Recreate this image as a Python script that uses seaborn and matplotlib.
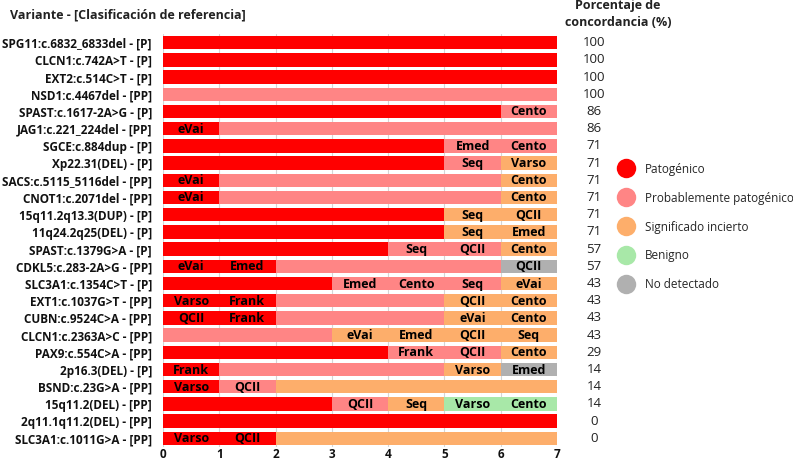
import matplotlib
matplotlib.use("Agg")
import matplotlib.pyplot as plt
from matplotlib.lines import Line2D
import pandas as pd
import seaborn as sns

# Variants (y categories), top to bottom
variants = [
    "SPG11:c.6832_6833del - [P]", "CLCN1:c.742A>T - [P]", "EXT2:c.514C>T - [P]",
    "NSD1:c.4467del - [PP]", "SPAST:c.1617-2A>G - [P]", "JAG1:c.221_224del - [PP]",
    "SGCE:c.884dup - [P]", "Xp22.31(DEL) - [P]", "SACS:c.5115_5116del - [PP]",
    "CNOT1:c.2071del - [PP]", "15q11.2q13.3(DUP) - [P]", "11q24.2q25(DEL) - [P]",
    "SPAST:c.1379G>A - [P]", "CDKL5:c.283-2A>G - [PP]", "SLC3A1:c.1354C>T - [P]",
    "EXT1:c.1037G>T - [PP]", "CUBN:c.9524C>A - [PP]", "CLCN1:c.2363A>C - [PP]",
    "PAX9:c.554C>A - [PP]", "2p16.3(DEL) - [P]", "BSND:c.23G>A - [PP]",
    "15q11.2(DEL) - [PP]", "2q11.1q11.2(DEL) - [PP]", "SLC3A1:c.1011G>A - [PP]",
]
concordance = [100, 100, 100, 100, 86, 86, 71, 71, 71, 71, 71, 71,
               57, 57, 43, 43, 43, 43, 29, 14, 14, 14, 0, 0]

# Classification given by each of the 7 labs (sorted), per variant
calls = [
    "P P P P P P P".split(),
    "P P P P P P P".split(),
    "P P P P P P P".split(),
    "PP PP PP PP PP PP PP".split(),
    "P P P P P P PP".split(),
    "P PP PP PP PP PP PP".split(),
    "P P P P P PP PP".split(),
    "P P P P P PP VUS".split(),
    "P PP PP PP PP PP VUS".split(),
    "P PP PP PP PP PP VUS".split(),
    "P P P P P VUS VUS".split(),
    "P P P P P VUS VUS".split(),
    "P P P P PP PP VUS".split(),
    "P P PP PP PP PP ND".split(),
    "P P P PP PP PP VUS".split(),
    "P P PP PP PP VUS VUS".split(),
    "P P PP PP PP VUS VUS".split(),
    "PP PP PP VUS VUS VUS VUS".split(),
    "P P P P PP PP VUS".split(),
    "P PP PP PP PP VUS ND".split(),
    "P PP VUS VUS VUS VUS VUS".split(),
    "P P P PP VUS B B".split(),
    "P P P P P P P".split(),
    "P P VUS VUS VUS VUS VUS".split(),
]

# Lab names written on discordant cells
lab_notes = [
    ["", "", "", "", "", "", ""],
    ["", "", "", "", "", "", ""],
    ["", "", "", "", "", "", ""],
    ["", "", "", "", "", "", ""],
    ["", "", "", "", "", "", "Cento"],
    ["eVai", "", "", "", "", "", ""],
    ["", "", "", "", "", "Emed", "Cento"],
    ["", "", "", "", "", "Seq", "Varso"],
    ["eVai", "", "", "", "", "", "Cento"],
    ["eVai", "", "", "", "", "", "Cento"],
    ["", "", "", "", "", "Seq", "QCII"],
    ["", "", "", "", "", "Seq", "Emed"],
    ["", "", "", "", "Seq", "QCII", "Cento"],
    ["eVai", "Emed", "", "", "", "", "QCII"],
    ["", "", "", "Emed", "Cento", "Seq", "eVai"],
    ["Varso", "Frank", "", "", "", "QCII", "Cento"],
    ["QCII", "Frank", "", "", "", "eVai", "Cento"],
    ["", "", "", "eVai", "Emed", "QCII", "Seq"],
    ["", "", "", "", "Frank", "QCII", "Cento"],
    ["Frank", "", "", "", "", "Varso", "Emed"],
    ["Varso", "QCII", "", "", "", "", ""],
    ["", "", "", "QCII", "Seq", "Varso", "Cento"],
    ["", "", "", "", "", "", ""],
    ["Varso", "QCII", "", "", "", "", ""],
]

class_names = ["Patogénico", "Probablemente patogénico", "Significado incierto",
               "Benigno", "No detectado"]
class_codes = ["P", "PP", "VUS", "B", "ND"]
class_colors = {"P": "#ff0000", "PP": "#ff8585", "VUS": "#fdae6b",
                "B": "#a8e8a8", "ND": "#b0b0b0"}

sns.set_theme(style="white")
plt.rcParams["font.family"] = ["Open Sans", "DejaVu Sans"]

n = len(variants)
n_labs = len(calls[0])

fig = plt.figure(figsize=(7.93, 4.63), dpi=100)
ax = fig.add_axes([163 / 793, 1 - 447 / 463, (557 - 163) / 793, (447 - 34) / 463])

# stacked bars: draw cumulative widths from the longest to the shortest
for k in range(n_labs, 0, -1):
    df = pd.DataFrame({"variant": variants, "width": [k] * n,
                       "cls": [row[k - 1] for row in calls]})
    pal = {v: class_colors[c] for v, c in zip(df["variant"], df["cls"])}
    sns.barplot(data=df, x="width", y="variant", hue="variant", palette=pal,
                legend=False, orient="h", width=0.78, saturation=1,
                errorbar=None, linewidth=0, edgecolor="none", ax=ax, zorder=2)

for i, row in enumerate(lab_notes):
    for j, lab in enumerate(row):
        if lab:
            ax.text(j + 0.5, i + 0.03, lab, ha="center", va="center",
                    fontsize=9, fontweight="bold", color="black", zorder=3)

for i, pct in enumerate(concordance):
    ax.text(7.66, i, str(pct), ha="center", va="center", fontsize=9.5,
            color="#222222", clip_on=False)

ax.set_xlim(0, 7)
ax.set_ylim(n - 0.5, -0.5)
ax.set_xticks(range(8))
ax.set_xlabel("")
ax.set_ylabel("")
ax.grid(axis="x", color="#d5d5d5", linewidth=0.8, zorder=0)
ax.grid(axis="y", visible=False)
ax.set_axisbelow(True)
for s in ax.spines.values():
    s.set_visible(False)
ax.tick_params(axis="x", length=0, pad=1, labelsize=8.5)
ax.tick_params(axis="y", length=0, pad=8, labelsize=8.5)
for lbl in ax.get_xticklabels() + ax.get_yticklabels():
    lbl.set_fontweight("bold")
    lbl.set_color("#111111")

fig.text(10 / 793, 1 - 15 / 463, "Variante - [Clasificación de referencia]",
         ha="left", va="center", fontsize=9, fontweight="bold", color="#222222")
fig.text(618 / 793, 1 - 14 / 463, "Porcentaje de\nconcordancia (%)",
         ha="center", va="center", fontsize=9, fontweight="bold",
         color="#222222", linespacing=1.35)

handles = [Line2D([], [], marker="o", linestyle="", markersize=14,
                  markerfacecolor=class_colors[c], markeredgecolor="none")
           for c in class_codes]
fig.legend(handles, class_names, loc="center left",
           bbox_to_anchor=(608 / 793, 1 - 227 / 463), frameon=False,
           fontsize=8.5, labelspacing=1.35, handletextpad=0.6, borderpad=0)

fig.savefig("out.png", dpi=100)
